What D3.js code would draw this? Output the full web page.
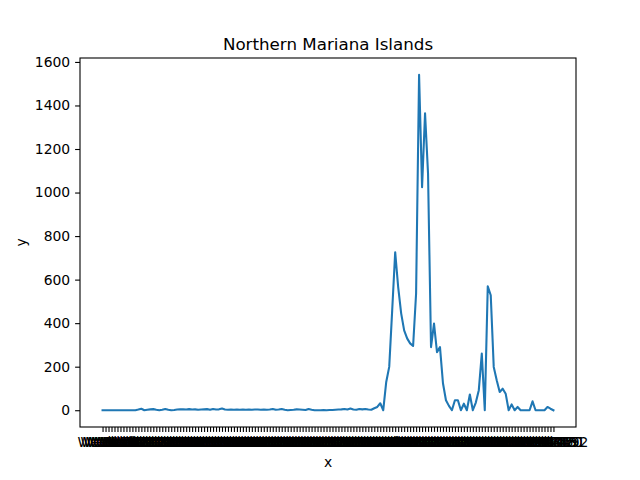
<!DOCTYPE html>
<html lang="en">
<head>
<meta charset="utf-8"/>
<title>Northern Mariana Islands</title>
<script src="https://d3js.org/d3.v7.min.js"></script>
<style>
  body { margin: 0; background: #fff; }
  text { font-family: "DejaVu Sans", sans-serif; }
  .axis path, .axis line { stroke: #000; stroke-width: 1.1px; }
  .axis text { font-size: 13.9px; fill: #000; }
</style>
</head>
<body>
<svg id="chart" width="640" height="480"></svg>
<script>
// weekly values
var values = [
  0, 0, 0, 0, 0, 0, 0, 0, 0, 0,
  0, 0, 3, 7, 0, 2, 4, 5, 2, 0,
  2, 6, 2, 0, 1, 3, 4, 4, 3, 5,
  3, 4, 2, 3, 4, 5, 2, 6, 3, 4,
  8, 3, 2, 3, 2, 3, 2, 3, 2, 3,
  2, 3, 3, 2, 3, 2, 3, 6, 2, 3,
  6, 2, 0, 1, 2, 4, 3, 2, 1, 6,
  2, 0, 0, 0, 1, 0, 1, 1, 2, 3,
  4, 6, 3, 8, 3, 2, 6, 4, 6, 3,
  2, 9, 15, 32, 0, 130, 199, 460, 726, 566,
  445, 367, 330, 307, 295, 536, 1541, 1024, 1364, 1087,
  290, 398, 267, 290, 124, 46, 20, 0, 46, 46,
  0, 30, 0, 72, 0, 35, 92, 260, 0, 569,
  528, 199, 138, 84, 99, 76, 0, 27, 0, 15,
  0, 0, 0, 0, 41, 0, 0, 0, 0, 15,
  7, 0
];
var labels = d3.range(1, values.length + 1).map(function(i) { return "Week " + i; });
var yTicks = [0, 200, 400, 600, 800, 1000, 1200, 1400, 1600];

var svg = d3.select("#chart"),
    margin = {top: 58, right: 64, bottom: 53, left: 80},
    width = 640 - margin.left - margin.right,
    height = 480 - margin.top - margin.bottom,
    g = svg.append("g").attr("transform", "translate(" + margin.left + "," + margin.top + ")");

// matplotlib style 5% margins
var n = values.length;
var xPad = (n - 1) * 0.05;
var x = d3.scaleLinear()
    .domain([-xPad, n - 1 + xPad])
    .range([0, width]);

var yMax = d3.max(values), yPad = yMax * 0.05;
var y = d3.scaleLinear()
    .domain([0 - yPad, yMax + yPad])
    .range([height, 0]);

var line = d3.line()
    .x(function(d, i) { return x(i); })
    .y(function(d) { return y(d); });

g.append("path")
    .datum(values)
    .attr("fill", "none")
    .attr("stroke", "#1f77b4")
    .attr("stroke-width", 2.08)
    .attr("stroke-linejoin", "round")
    .attr("stroke-linecap", "square")
    .attr("d", line);

// x axis: one tick per category
g.append("g")
    .attr("class", "axis")
    .attr("transform", "translate(0," + height + ")")
    .call(d3.axisBottom(x)
      .tickValues(d3.range(n))
      .tickFormat(function(i) { return labels[i]; })
      .tickSize(4.9)
      .tickPadding(4.9))
    .call(function(a) { a.select(".domain").remove(); });

g.append("g")
    .attr("class", "axis")
    .call(d3.axisLeft(y)
      .tickValues(yTicks)
      .tickFormat(d3.format("d"))
      .tickSize(4.9)
      .tickPadding(4.9))
    .call(function(a) { a.select(".domain").remove(); });

// frame
g.append("rect")
    .attr("width", width)
    .attr("height", height)
    .attr("fill", "none")
    .attr("stroke", "#000")
    .attr("stroke-width", 1.1);

svg.append("text")
    .attr("x", margin.left + width / 2)
    .attr("y", margin.top - 8.3)
    .attr("text-anchor", "middle")
    .attr("font-size", 16.7)
    .text("Northern Mariana Islands");

svg.append("text")
    .attr("x", margin.left + width / 2)
    .attr("y", 467)
    .attr("text-anchor", "middle")
    .attr("font-size", 13.9)
    .text("x");

svg.append("text")
    .attr("transform", "translate(26," + (margin.top + height / 2) + ") rotate(-90)")
    .attr("text-anchor", "middle")
    .attr("font-size", 13.9)
    .text("y");
</script>
</body>
</html>
